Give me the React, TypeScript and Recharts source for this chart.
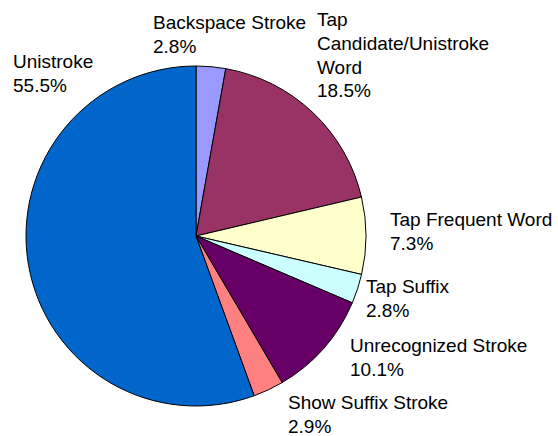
import { PieChart, Pie, Cell } from 'recharts';

// Share of each input action, in percent
const ACTIONS = [
  'Backspace Stroke',
  'Tap\nCandidate/Unistroke\nWord',
  'Tap Frequent Word',
  'Tap Suffix',
  'Unrecognized Stroke',
  'Show Suffix Stroke',
  'Unistroke',
];
const SHARES = [2.8, 18.5, 7.3, 2.8, 10.1, 2.9, 55.5];
const COLORS = ['#9999FF', '#993366', '#FFFFCC', '#CCFFFF', '#660066', '#FF8080', '#0066CC'];

// label anchor (left edge, first baseline) for each slice
const LABEL_POS = [
  { x: 153, y: 29 },
  { x: 317, y: 26 },
  { x: 390, y: 226 },
  { x: 366, y: 293 },
  { x: 350, y: 352 },
  { x: 288, y: 409 },
  { x: 13, y: 68 },
];

const LINE_H = 23.8;

const data = ACTIONS.map((name, i) => ({ name, value: SHARES[i] }));

const renderLabel = (props: any) => {
  const { index, value } = props;
  const pos = LABEL_POS[index];
  const lines = [...data[index].name.split('\n'), `${Number(value).toFixed(1)}%`];
  return (
    <text
      key={`label-${index}`}
      x={pos.x}
      y={pos.y}
      fill="#000"
      fontSize={19}
      fontFamily="'Liberation Sans', Arial, sans-serif"
      textAnchor="start"
    >
      {lines.map((line, j) => (
        <tspan key={j} x={pos.x} y={pos.y + j * LINE_H}>
          {line}
        </tspan>
      ))}
    </text>
  );
};

export default function App() {
  return (
    <div style={{ width: 558, height: 436, background: '#fff' }}>
      <style>{`body { margin: 0; }`}</style>
      <PieChart width={558} height={436} margin={{ top: 0, right: 0, bottom: 0, left: 0 }}>
        <Pie
          data={data}
          dataKey="value"
          nameKey="name"
          cx={196}
          cy={236}
          outerRadius={170}
          startAngle={90}
          endAngle={-270}
          stroke="#000"
          strokeWidth={1}
          labelLine={false}
          label={renderLabel}
          isAnimationActive={false}
        >
          {data.map((entry, i) => (
            <Cell key={entry.name} fill={COLORS[i]} />
          ))}
        </Pie>
      </PieChart>
    </div>
  );
}
